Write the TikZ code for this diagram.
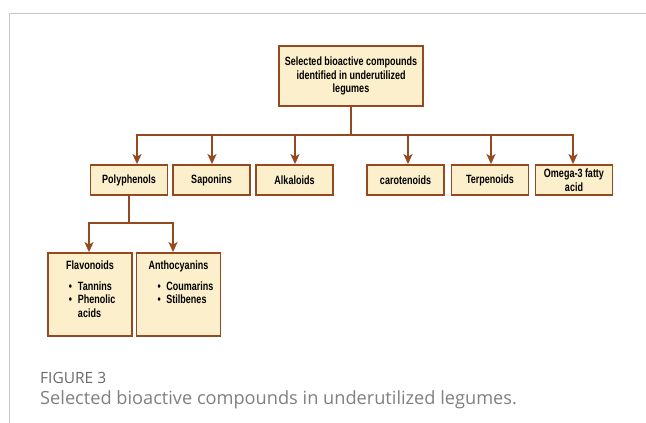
\documentclass[tikz,border=0pt]{standalone}
\usepackage{fontspec}
\setmainfont{Liberation Sans}
\newfontfamily\boxfont{Liberation Sans}[FakeStretch=0.75]
\newfontfamily\capfont{Open Sans}
\usetikzlibrary{arrows.meta,calc,positioning}
\definecolor{boxfill}{HTML}{FCEFCB}
\definecolor{boxline}{HTML}{96481E}
\definecolor{capgray}{HTML}{6A6A6A}
\definecolor{framegray}{HTML}{C8C8C8}
\newcommand{\bitem}[1]{\par\noindent\hspace*{17pt}\hangindent=26pt\hangafter=1\makebox[9pt][l]{\textbullet}#1}
\tikzset{
  box/.style     = {draw=boxline, line width=1.8pt, fill=boxfill, align=center,
                    font=\boxfont\bfseries\fontsize{12}{13.5}\selectfont,
                    inner sep=0pt, minimum width=77pt, minimum height=30pt},
  topbox/.style  = {box, minimum width=144pt, minimum height=60pt},
  leafbox/.style = {box, inner xsep=4pt, inner ysep=8pt, minimum width=84pt},
  link/.style    = {draw=boxline, line width=1.8pt},
  arr/.style     = {link, -{Stealth[length=10pt,width=9pt,inset=2.5pt]}},
  frame/.style   = {framegray, line width=0.8pt},
}

\begin{document}
\begin{tikzpicture}[x=1pt,y=-1pt]
  \useasboundingbox (0,0) rectangle (646,423);
  \draw[frame] (9,423) -- (9,13.5) -- (646,13.5);
  \node[topbox] (top) at (351,76) {Selected bioactive compounds\\identified in underutilized\\legumes};
  \foreach \n/\x/\lab in {poly/129/Polyphenols,sap/211.5/Saponins,alk/294.5/Alkaloids,
                          car/405.5/carotenoids,ter/490/Terpenoids}
    {\node[box] (\n) at (\x,180) {\lab};}
  \node[box] (ome) at (574,180) {Omega-3 fatty\\acid};
  \coordinate (bus) at (351,135);
  \draw[link] (top.south) -- (bus);
  \foreach \n/\dx in {poly/8,sap/0.5,alk/0.5,car/2.5,ter/1,ome/-1}
    {\draw[arr] (bus) -| ([xshift=\dx pt]\n.north);}
  \node[leafbox] (flav) at (90,294.5)
    {\parbox[c][67pt][t]{76pt}{\centering Flavonoids\par\vspace{7pt}\raggedright
     \bitem{Tannins}\bitem{Phenolic acids}}};
  \node[leafbox] (anth) at (178.5,294.5)
    {\parbox[c][67pt][t]{76pt}{\centering Anthocyanins\par\vspace{7pt}\raggedright
     \bitem{Coumarins}\bitem{Stilbenes}}};
  \coordinate (fork) at (129,223);
  \draw[link] (poly.south) -- (fork);
  \draw[arr] (fork) -| ([xshift=-1pt]flav.north);
  \draw[arr] (fork) -| ([xshift=-5.5pt]anth.north);
  \node[anchor=base west, inner sep=0pt, text=capgray,
        font=\capfont\fontsize{15.5}{18}\selectfont] (fignum) at (40,383) {FIGURE 3};
  \node[anchor=base west, inner sep=0pt, text=capgray!85,
        font=\capfont\fontsize{18.2}{21}\selectfont] (caption) at (40,404)
    {Selected bioactive compounds in underutilized legumes.};
\end{tikzpicture}
\end{document}
